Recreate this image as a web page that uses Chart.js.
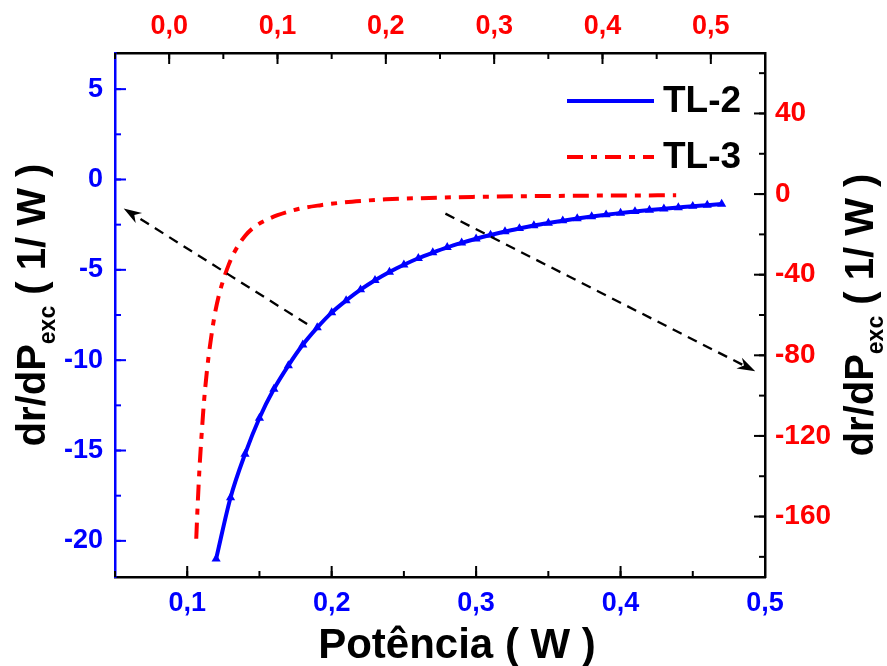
<!DOCTYPE html>
<html>
<head>
<meta charset="utf-8">
<script src="https://cdn.jsdelivr.net/npm/chart.js@4"></script>
<style>
  body { margin: 0; background: #fff; }
  canvas { display: block; }
</style>
</head>
<body>
<canvas id="myChart" width="887" height="666"></canvas>
<script>
// TL-2 (eixos inferior / esquerdo)
const tl2Power = [0.12, 0.13, 0.14, 0.15, 0.16, 0.17, 0.18, 0.19, 0.20, 0.21, 0.22, 0.23,
  0.24, 0.25, 0.26, 0.27, 0.28, 0.29, 0.30, 0.31, 0.32, 0.33, 0.34, 0.35,
  0.36, 0.37, 0.38, 0.39, 0.40, 0.41, 0.42, 0.43, 0.44, 0.45, 0.46, 0.47];
const tl2Deriv = [-21.0, -17.6, -15.2, -13.2, -11.6, -10.3, -9.15, -8.2, -7.37, -6.7, -6.1, -5.58,
  -5.12, -4.72, -4.36, -4.05, -3.76, -3.51, -3.28, -3.07, -2.88, -2.71, -2.55, -2.41,
  -2.28, -2.16, -2.05, -1.95, -1.86, -1.77, -1.69, -1.62, -1.55, -1.48, -1.42, -1.36];

// TL-3 (eixos superior / direito)
const tl3Power = [0.025, 0.026, 0.028, 0.030, 0.032, 0.035, 0.038, 0.042, 0.046, 0.050,
  0.055, 0.060, 0.070, 0.080, 0.090, 0.100, 0.120, 0.140, 0.160, 0.180,
  0.200, 0.240, 0.280, 0.320, 0.360, 0.400, 0.440, 0.468];
const tl3Deriv = [-171, -158, -136, -119, -104, -87, -74, -60, -50, -42.6,
  -35, -29, -20.8, -15.8, -12.8, -10.5, -7.3, -5.5, -4.2, -3.3,
  -2.6, -1.9, -1.4, -1.1, -0.9, -0.75, -0.65, -0.6];

const bottomTicks = [0.1, 0.2, 0.3, 0.4, 0.5];
const topTicks = [0.0, 0.1, 0.2, 0.3, 0.4, 0.5];
const leftTicks = [-20, -15, -10, -5, 0, 5];
const rightTicks = [-160, -120, -80, -40, 0, 40];

// setas tracejadas: [x inicial, y inicial, x final, y final]
const arrowTL2 = [0.183, -8.0, 0.056, -1.6];      // eixos x / y
const arrowTL3 = [0.255, -9.7, 0.541, -87.9];     // eixos x2 / y2

const FONT = "'Liberation Sans', Arial, sans-serif";
const BLUE = "#0000ff";
const RED = "#ff0000";

const comma = (v) => v.toFixed(1).replace(".", ",");
const fixTicks = (list) => (scale) => {
  scale.ticks = list.map((v) => ({ value: v }));
};

function tickMarks(ctx, scale, majors, minorStep, side, color) {
  const a = scale.chart.chartArea;
  const draw = (v, len) => {
    const p = scale.getPixelForValue(v);
    ctx.beginPath();
    if (side === "bottom") { ctx.moveTo(p, a.bottom); ctx.lineTo(p, a.bottom - len); }
    if (side === "top") { ctx.moveTo(p, a.top); ctx.lineTo(p, a.top + len); }
    if (side === "left") { ctx.moveTo(a.left, p); ctx.lineTo(a.left + len, p); }
    if (side === "right") { ctx.moveTo(a.right, p); ctx.lineTo(a.right - len, p); }
    ctx.stroke();
  };
  ctx.save();
  ctx.strokeStyle = color;
  ctx.lineWidth = 2;
  const k0 = Math.ceil(scale.min / minorStep - 1e-9);
  for (let k = k0; k * minorStep <= scale.max + 1e-9; k++) draw(k * minorStep, 6);
  majors.forEach((v) => draw(v, 11));
  ctx.restore();
}

function arrow(ctx, xs, ys, seg) {
  const x0 = xs.getPixelForValue(seg[0]);
  const y0 = ys.getPixelForValue(seg[1]);
  const x1 = xs.getPixelForValue(seg[2]);
  const y1 = ys.getPixelForValue(seg[3]);
  const ang = Math.atan2(y1 - y0, x1 - x0);
  const head = 18;
  ctx.save();
  ctx.strokeStyle = "#000";
  ctx.lineWidth = 2.3;
  ctx.setLineDash([10, 7]);
  ctx.beginPath();
  ctx.moveTo(x0, y0);
  ctx.lineTo(x1 - head * 0.8 * Math.cos(ang), y1 - head * 0.8 * Math.sin(ang));
  ctx.stroke();
  ctx.setLineDash([]);
  ctx.fillStyle = "#000";
  ctx.translate(x1, y1);
  ctx.rotate(ang);
  ctx.beginPath();
  ctx.moveTo(0, 0);
  ctx.lineTo(-head, -6);
  ctx.lineTo(-head * 0.7, 0);
  ctx.lineTo(-head, 6);
  ctx.closePath();
  ctx.fill();
  ctx.restore();
}

// título vertical com subscrito: dr/dP_exc ( 1/ W )
function derivTitle(ctx, cx, cy) {
  const main = "bold 40px " + FONT;
  const sub = "bold 23px " + FONT;
  const a = "dr/dP", b = "exc", c = " ( 1/ W )";
  ctx.save();
  ctx.font = main;
  const wa = ctx.measureText(a).width;
  const wc = ctx.measureText(c).width;
  ctx.font = sub;
  const wb = ctx.measureText(b).width;
  const total = wa + wb + wc;
  ctx.translate(cx, cy);
  ctx.rotate(-Math.PI / 2);
  ctx.fillStyle = "#000";
  ctx.textBaseline = "alphabetic";
  ctx.textAlign = "left";
  let x = -total / 2;
  ctx.font = main;
  ctx.fillText(a, x, 0);
  x += wa;
  ctx.font = sub;
  ctx.fillText(b, x, 10);
  x += wb;
  ctx.font = main;
  ctx.fillText(c, x, 0);
  ctx.restore();
}

const decorations = {
  id: "decorations",
  afterDatasetsDraw(chart) {
    const { ctx, chartArea: a, scales } = chart;

    tickMarks(ctx, scales.x, bottomTicks, 0.05, "bottom", "#000");
    tickMarks(ctx, scales.x2, topTicks, 0.05, "top", "#000");
    tickMarks(ctx, scales.y, leftTicks, 2.5, "left", BLUE);
    tickMarks(ctx, scales.y2, rightTicks, 20, "right", "#000");

    arrow(ctx, scales.x, scales.y, arrowTL2);
    arrow(ctx, scales.x2, scales.y2, arrowTL3);

    // legenda
    ctx.save();
    ctx.font = "bold 37px " + FONT;
    ctx.textBaseline = "middle";
    ctx.fillStyle = "#000";
    chart.data.datasets.forEach((ds, i) => {
      const y = a.top + 48 + i * 56;
      ctx.strokeStyle = ds.borderColor;
      ctx.lineWidth = ds.borderWidth;
      ctx.setLineDash(ds.borderDash || []);
      ctx.beginPath();
      ctx.moveTo(a.right - 198, y);
      ctx.lineTo(a.right - 111, y);
      ctx.stroke();
      ctx.fillText(ds.label, a.right - 102, y + 1);
    });
    ctx.restore();

    // títulos dos eixos
    ctx.save();
    ctx.font = "bold 42px " + FONT;
    ctx.fillStyle = "#000";
    ctx.textAlign = "center";
    ctx.textBaseline = "alphabetic";
    ctx.fillText("Potência ( W )", 457, 658);
    ctx.restore();
    derivTitle(ctx, 45, 305);
    derivTitle(ctx, 873, 315);
  },
};

const tickFont = { family: FONT, size: 27, weight: "bold" };

new Chart(document.getElementById("myChart"), {
  type: "line",
  data: {
    datasets: [
      {
        label: "TL-2",
        data: tl2Power.map((p, i) => ({ x: p, y: tl2Deriv[i] })),
        xAxisID: "x",
        yAxisID: "y",
        borderColor: BLUE,
        backgroundColor: BLUE,
        borderWidth: 4,
        pointRadius: 1.3,
        pointStyle: "triangle",
        cubicInterpolationMode: "monotone",
      },
      {
        label: "TL-3",
        data: tl3Power.map((p, i) => ({ x: p, y: tl3Deriv[i] })),
        xAxisID: "x2",
        yAxisID: "y2",
        borderColor: RED,
        backgroundColor: RED,
        borderWidth: 4,
        borderDash: [16, 8, 6, 8],
        pointRadius: 0,
        cubicInterpolationMode: "monotone",
      },
    ],
  },
  options: {
    responsive: false,
    animation: false,
    layout: { padding: 0 },
    plugins: { legend: { display: false }, tooltip: { enabled: false } },
    scales: {
      x: {
        type: "linear",
        position: "bottom",
        min: 0.05,
        max: 0.5,
        grid: { display: false, drawTicks: false },
        border: { display: true, color: "#000", width: 2.5 },
        ticks: { color: BLUE, font: tickFont, padding: 10, callback: (v) => comma(v) },
        afterBuildTicks: fixTicks(bottomTicks),
        afterFit: (s) => { s.height = 89; },
      },
      x2: {
        type: "linear",
        position: "top",
        min: -0.05,
        max: 0.55,
        grid: { display: false, drawTicks: false },
        border: { display: true, color: "#000", width: 2.5 },
        ticks: { color: RED, font: tickFont, padding: 10, callback: (v) => comma(v) },
        afterBuildTicks: fixTicks(topTicks),
        afterFit: (s) => { s.height = 53; },
      },
      y: {
        type: "linear",
        position: "left",
        min: -22,
        max: 7,
        grid: { display: false, drawTicks: false },
        border: { display: true, color: BLUE, width: 2.5 },
        ticks: { color: BLUE, font: tickFont, padding: 12 },
        afterBuildTicks: fixTicks(leftTicks),
        afterFit: (s) => { s.width = 115; },
      },
      y2: {
        type: "linear",
        position: "right",
        min: -190,
        max: 70,
        grid: { display: false, drawTicks: false },
        border: { display: true, color: "#000", width: 2.5 },
        ticks: { color: RED, font: { family: FONT, size: 28, weight: "bold" }, padding: 10 },
        afterBuildTicks: fixTicks(rightTicks),
        afterFit: (s) => { s.width = 122; },
      },
    },
  },
  plugins: [decorations],
});
</script>
</body>
</html>
